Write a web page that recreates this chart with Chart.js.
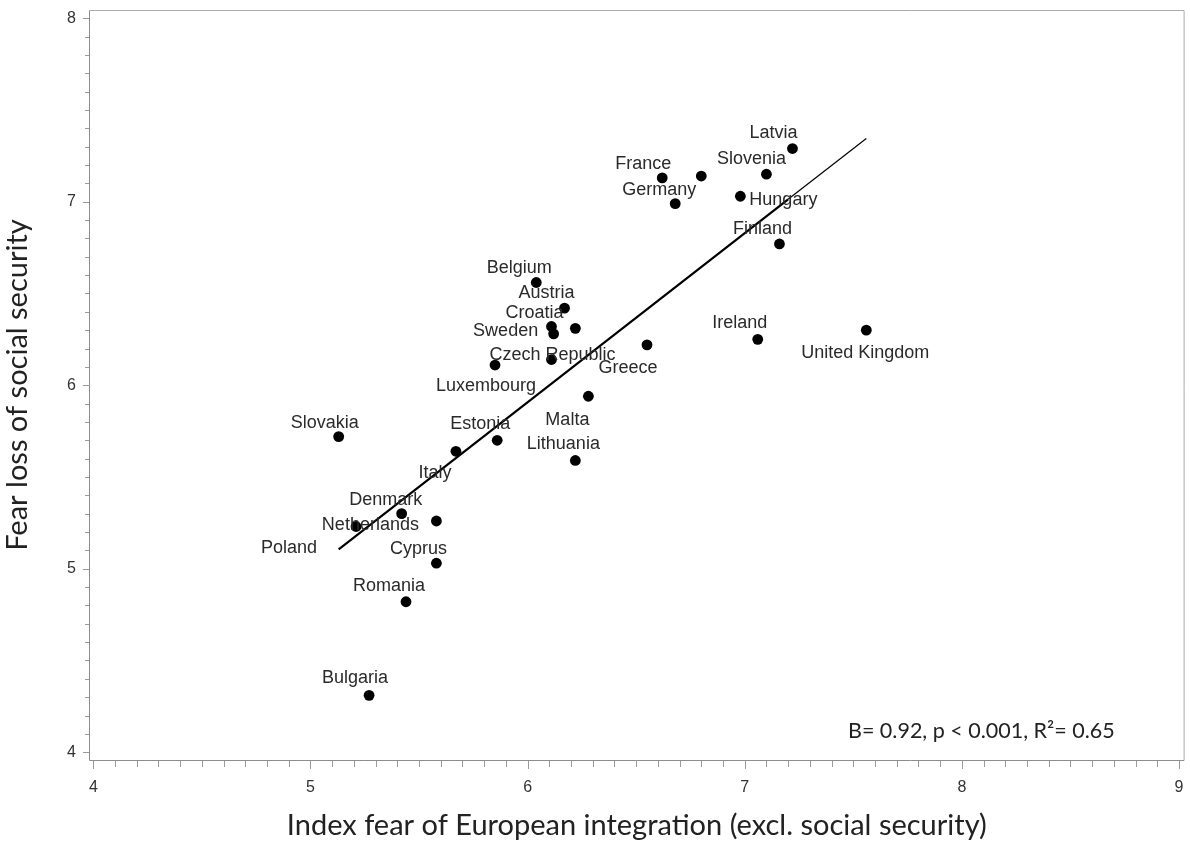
<!DOCTYPE html>
<html>
<head>
<meta charset="utf-8">
<title>Fear loss of social security vs. fear of European integration</title>
<script src="https://cdn.jsdelivr.net/npm/chart.js@4/dist/chart.umd.min.js"></script>
<style>
  html, body { margin: 0; padding: 0; background: #ffffff; }
  canvas { display: block; }
</style>
</head>
<body>
<canvas id="chart" width="1190" height="847"></canvas>
<script>
// Country averages (EU-28)
const countries = [
  'Latvia', 'Slovenia', 'Spain', 'France', 'Germany', 'Hungary', 'Finland',
  'Belgium', 'Austria', 'Croatia', 'Sweden', 'Portugal', 'Greece', 'Ireland',
  'United Kingdom', 'Luxembourg', 'Czech Republic', 'Malta', 'Slovakia',
  'Estonia', 'Italy', 'Lithuania', 'Denmark', 'Poland', 'Netherlands',
  'Cyprus', 'Romania', 'Bulgaria'
];
// Index fear of European integration (excl. social security)
const fearIntegration = [
  7.22, 7.10, 6.80, 6.62, 6.68, 6.98, 7.16,
  6.04, 6.17, 6.11, 6.12, 6.22, 6.55, 7.06,
  7.56, 5.85, 6.11, 6.28, 5.13,
  5.86, 5.67, 6.22, 5.42, 5.21, 5.58,
  5.58, 5.44, 5.27
];
// Fear loss of social security
const fearSocial = [
  7.29, 7.15, 7.14, 7.13, 6.99, 7.03, 6.77,
  6.56, 6.42, 6.32, 6.28, 6.31, 6.22, 6.25,
  6.30, 6.11, 6.14, 5.94, 5.72,
  5.70, 5.64, 5.59, 5.30, 5.23, 5.26,
  5.03, 4.82, 4.31
];
const xTickValues = [4, 5, 6, 7, 8, 9];
const yTickValues = [4, 5, 6, 7, 8];

// Where each country name sits relative to its marker (px); null = not labelled
const labelOffsets = [
  [-19, -16], [-15, -15], null, [-19, -14], [-16, -14], [43, 4], [-17, -15],
  [-17, -14], [-18, -15], [-17, -13], [-48, -3], null, [-19, 23], [-18, -16],
  [-1, 23], [-9, 21], [1, -5], [-21, 24], [-14, -14],
  [-17, -16], [-21, 22], [-12, -16], [-16, -14], [-67, 22], [-66, 4],
  [-18, -14], [-17, -16], [-14, -17]
];

// Ordinary least squares fit of fearSocial on fearIntegration
function leastSquares(xs, ys) {
  const n = xs.length;
  const mx = xs.reduce((s, v) => s + v, 0) / n;
  const my = ys.reduce((s, v) => s + v, 0) / n;
  let sxx = 0, sxy = 0, syy = 0;
  for (let i = 0; i < n; i++) {
    const dx = xs[i] - mx, dy = ys[i] - my;
    sxx += dx * dx; sxy += dx * dy; syy += dy * dy;
  }
  const slope = sxy / sxx;
  return { slope, intercept: my - slope * mx, r2: (sxy * sxy) / (sxx * syy) };
}
const fit = leastSquares(fearIntegration, fearSocial);
const xLo = Math.min(...fearIntegration);
const xHi = Math.max(...fearIntegration);
const fitBreakX = 7.2; // the fitted line is drawn thinner beyond this point
const fitPoints = [xLo, fitBreakX, xHi].map(v => ({ x: v, y: fit.intercept + fit.slope * v }));
const statsText = 'B= ' + fit.slope.toFixed(2) + ', p < 0.001, R\u00B2= ' + fit.r2.toFixed(2);

const points = fearIntegration.map((v, i) => ({ x: v, y: fearSocial[i] }));

const LABEL_FONT = '18px "Liberation Sans", Arial, sans-serif';
const TICK_FAMILY = '"Liberation Sans", Arial, sans-serif';
const TITLE_FAMILY = 'Lato, "Open Sans", sans-serif';
const AXIS_GREY = '#8e8e8e';

const decorations = {
  id: 'decorations',
  beforeDatasetsDraw(chart) {
    const { ctx, chartArea: a, scales: { x, y } } = chart;
    ctx.save();
    ctx.lineWidth = 1;
    // plot frame
    ctx.strokeStyle = '#ababab';
    ctx.beginPath();
    ctx.moveTo(a.left + 0.5, a.top + 0.5);
    ctx.lineTo(a.right - 0.5, a.top + 0.5);
    ctx.lineTo(a.right - 0.5, a.bottom + 0.5);
    ctx.stroke();
    ctx.strokeStyle = AXIS_GREY;
    ctx.beginPath();
    ctx.moveTo(a.left + 0.5, a.top + 0.5);
    ctx.lineTo(a.left + 0.5, a.bottom + 0.5);
    ctx.lineTo(a.right - 0.5, a.bottom + 0.5);
    ctx.stroke();
    // major and minor tick marks every 0.1
    ctx.strokeStyle = '#9a9a9a';
    ctx.beginPath();
    for (let i = 40; i <= 90; i++) {
      const px = Math.round(x.getPixelForValue(i / 10)) + 0.5;
      const len = i % 10 === 0 ? 8 : 6;
      ctx.moveTo(px, a.bottom + 1);
      ctx.lineTo(px, a.bottom + 1 + len);
    }
    for (let i = 40; i <= 80; i++) {
      const py = Math.round(y.getPixelForValue(i / 10)) + 0.5;
      const len = i % 10 === 0 ? 6 : 4;
      ctx.moveTo(a.left, py);
      ctx.lineTo(a.left - len, py);
    }
    ctx.stroke();
    ctx.restore();
  },
  afterDatasetsDraw(chart) {
    const { ctx } = chart;
    const meta = chart.getDatasetMeta(1);
    ctx.save();
    ctx.font = LABEL_FONT;
    ctx.fillStyle = '#2a2a2a';
    ctx.textAlign = 'center';
    ctx.textBaseline = 'middle';
    meta.data.forEach((pt, i) => {
      const off = labelOffsets[i];
      if (!off) return;
      ctx.fillText(countries[i], pt.x + off[0], pt.y + off[1]);
    });
    // regression summary
    ctx.font = '21.5px ' + TITLE_FAMILY;
    ctx.fillStyle = '#222222';
    ctx.textAlign = 'left';
    ctx.textBaseline = 'alphabetic';
    ctx.fillText(statsText, 848, 738);
    ctx.restore();
  }
};

new Chart(document.getElementById('chart'), {
  type: 'scatter',
  data: {
    datasets: [
      {
        type: 'line',
        label: 'Fit',
        data: fitPoints,
        borderColor: '#000000',
        borderWidth: 2.2,
        pointRadius: 0,
        fill: false,
        tension: 0,
        order: 2,
        segment: {
          borderWidth: c => (c.p0DataIndex === 0 ? 2.2 : 1.2)
        }
      },
      {
        label: 'Countries',
        data: points,
        pointRadius: 5.4,
        pointBackgroundColor: '#000000',
        pointBorderWidth: 0,
        order: 1
      }
    ]
  },
  options: {
    responsive: false,
    animation: false,
    devicePixelRatio: 1,
    layout: { padding: { top: 10, right: 4, left: 0, bottom: 0 } },
    plugins: {
      legend: { display: false },
      tooltip: { enabled: false }
    },
    scales: {
      x: {
        type: 'linear',
        min: 3.98,
        max: 9.026,
        afterFit: s => { s.height = 87; s.paddingLeft = 0; s.paddingRight = 0; },
        afterBuildTicks: s => { s.ticks = xTickValues.map(v => ({ value: v })); },
        grid: { display: false, drawTicks: false },
        border: { display: false },
        ticks: {
          autoSkip: false,
          maxRotation: 0,
          padding: 18,
          color: '#333333',
          font: { family: TICK_FAMILY, size: 16 }
        },
        title: {
          display: true,
          // zero-width non-joiner keeps "t" and "i" as separate glyphs
          text: 'Index fear of European integra\u200Ction (excl. social security)',
          color: '#222222',
          font: { family: TITLE_FAMILY, size: 29 },
          padding: { top: 0, bottom: 4 }
        }
      },
      y: {
        type: 'linear',
        min: 3.9575,
        max: 8.045,
        afterFit: s => { s.width = 89; s.paddingTop = 0; s.paddingBottom = 0; },
        afterBuildTicks: s => { s.ticks = yTickValues.map(v => ({ value: v })); },
        grid: { display: false, drawTicks: false },
        border: { display: false },
        ticks: {
          autoSkip: false,
          padding: 13,
          color: '#333333',
          font: { family: TICK_FAMILY, size: 16 }
        },
        title: {
          display: true,
          text: 'Fear loss of social security',
          color: '#222222',
          font: { family: TITLE_FAMILY, size: 29 },
          padding: { top: 0, bottom: 0 }
        }
      }
    }
  },
  plugins: [decorations]
});
</script>
</body>
</html>
